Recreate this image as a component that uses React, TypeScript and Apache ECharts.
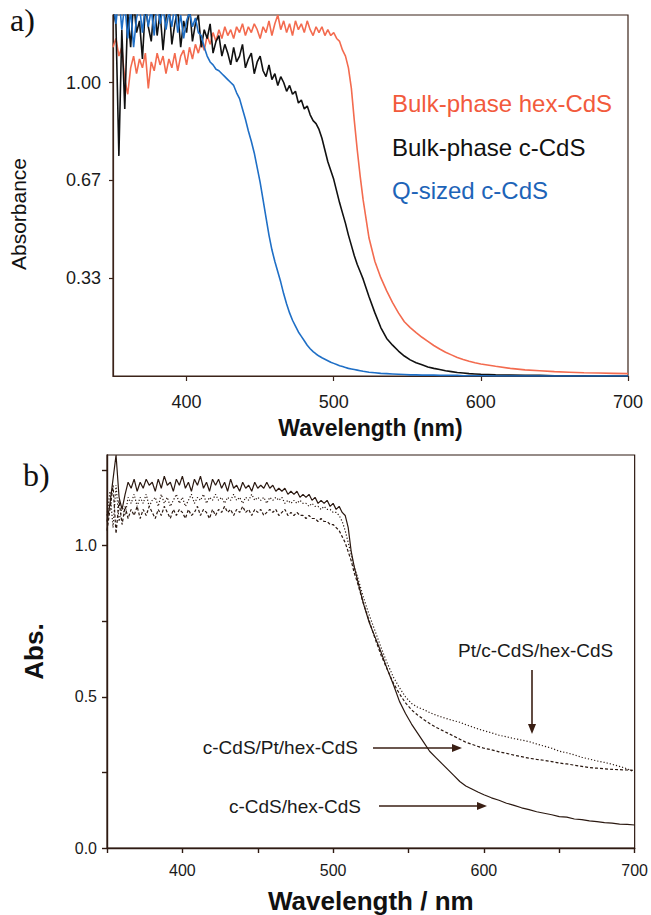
import React, { useEffect, useRef } from "react";
import * as echarts from "echarts";

// ---------- Panel a: wavelength grid (nm) ----------
const WL_A = [
  350, 352, 354, 356, 358, 360, 362, 364, 366, 368,
  370, 372, 374, 376, 378, 380, 382, 384, 386, 388,
  390, 392, 394, 396, 398, 400, 402, 404, 406, 408,
  410, 412, 414, 416, 418, 420, 422, 424, 426, 428,
  430, 432, 434, 436, 438, 440, 442, 444, 446, 448,
  450, 452, 454, 456, 458, 460, 462, 464, 466, 468,
  470, 472, 474, 476, 478, 480, 482, 484, 486, 488,
  490, 492, 494, 496, 498, 500, 502, 504, 506, 508,
  510, 512, 514, 516, 518, 520,
  524, 528, 532, 536, 540, 544, 548, 552, 556, 560,
  564, 568, 572, 576, 580, 584, 588, 592, 596, 600,
  610, 620, 630, 640, 650, 660, 670, 680, 690, 700,
];

// Bulk-phase hex-CdS
const HEX_A = [
  1.12, 1.15, 1.09, 1.12, 1.01, 0.96, 1.05, 1.09, 1.03, 1.08,
  1.05, 1.10, 0.98, 1.07, 1.04, 1.10, 1.06, 1.09, 1.03, 1.08,
  1.05, 1.10, 1.04, 1.09, 1.11, 1.06, 1.12, 1.08, 1.13, 1.10,
  1.14, 1.11, 1.16, 1.13, 1.17, 1.14, 1.18, 1.15, 1.19, 1.16,
  1.18, 1.15, 1.19, 1.17, 1.20, 1.16, 1.19, 1.17, 1.20, 1.18,
  1.15, 1.19, 1.17, 1.21, 1.16, 1.20, 1.23, 1.18, 1.21, 1.17,
  1.20, 1.16, 1.21, 1.18, 1.20, 1.17, 1.21, 1.18, 1.16, 1.19,
  1.17, 1.19, 1.16, 1.18, 1.16, 1.17, 1.15, 1.14, 1.11, 1.09,
  1.05, 0.98, 0.87, 0.77, 0.68, 0.60,
  0.47, 0.39, 0.335, 0.29, 0.25, 0.215, 0.185, 0.165, 0.148, 0.132,
  0.118, 0.104, 0.092, 0.081, 0.072, 0.063, 0.056, 0.050, 0.045, 0.041,
  0.033, 0.026, 0.021, 0.018, 0.015, 0.013, 0.011, 0.010, 0.009, 0.008,
];

// Bulk-phase c-CdS
const CUBIC_A = [
  1.25, 1.20, 0.75, 1.18, 0.91, 1.24, 1.12, 1.28, 1.17, 1.21,
  1.08, 1.26, 1.19, 1.14, 1.27, 1.16, 1.24, 1.11, 1.22, 1.27,
  1.13, 1.20, 1.25, 1.12, 1.21, 1.17, 1.26, 1.14, 1.20, 1.23,
  1.12, 1.18, 1.15, 1.20, 1.10, 1.14, 1.16, 1.09, 1.13, 1.10,
  1.06, 1.12, 1.07, 1.09, 1.13, 1.05, 1.08, 1.10, 1.03, 1.07,
  1.09, 1.04, 1.02, 1.06, 1.01, 1.03, 0.99, 1.02, 1.00, 0.97,
  0.99, 0.96, 0.97, 0.93, 0.94, 0.91, 0.92, 0.89, 0.87, 0.86,
  0.84, 0.81, 0.77, 0.73, 0.70, 0.67, 0.63, 0.59, 0.555, 0.52,
  0.48, 0.445, 0.41, 0.38, 0.355, 0.33,
  0.27, 0.215, 0.165, 0.128, 0.105, 0.085, 0.068, 0.055, 0.045, 0.038,
  0.031, 0.026, 0.022, 0.018, 0.015, 0.012, 0.010, 0.008, 0.007, 0.006,
  0.004, 0.003, 0.002, 0.002, 0.001, 0.001, 0.001, 0, 0, 0,
];

// Q-sized c-CdS
const QSIZE_A = [
  1.28, 1.20, 1.30, 1.18, 1.27, 1.15, 1.25, 1.12, 1.22, 1.26,
  1.17, 1.27, 1.19, 1.25, 1.16, 1.28, 1.20, 1.26, 1.18, 1.24,
  1.19, 1.27, 1.17, 1.23, 1.15, 1.21, 1.24, 1.19, 1.22, 1.17,
  1.16, 1.12, 1.09, 1.07, 1.06, 1.045, 1.04, 1.03, 1.02, 1.01,
  1.00, 0.99, 0.965, 0.945, 0.91, 0.875, 0.835, 0.80, 0.76, 0.71,
  0.66, 0.60, 0.54, 0.48, 0.43, 0.39, 0.355, 0.32, 0.28, 0.245,
  0.215, 0.19, 0.17, 0.15, 0.135, 0.12, 0.105, 0.093, 0.083, 0.075,
  0.068, 0.062, 0.057, 0.052, 0.047, 0.043, 0.039, 0.035, 0.032, 0.029,
  0.026, 0.024, 0.022, 0.020, 0.018, 0.016,
  0.013, 0.011, 0.009, 0.008, 0.007, 0.006, 0.005, 0.004, 0.004, 0.003,
  0.003, 0.003, 0.002, 0.002, 0.002, 0.002, 0.001, 0.001, 0.001, 0.001,
  0, 0, 0, 0, 0, 0, 0, 0, 0, 0,
];

// ---------- Panel b: wavelength grid (nm) ----------
const WL_B = [
  350, 352, 354, 356, 358, 360, 362, 364, 366, 368,
  370, 372, 374, 376, 378, 380, 382, 384, 386, 388,
  390, 392, 394, 396, 398, 400, 402, 404, 406, 408,
  410, 412, 414, 416, 418, 420, 422, 424, 426, 428,
  430, 432, 434, 436, 438, 440, 442, 444, 446, 448,
  450, 452, 454, 456, 458, 460, 462, 464, 466, 468,
  470, 472, 474, 476, 478, 480, 482, 484, 486, 488,
  490, 492, 494, 496, 498, 500, 502, 504, 506, 508,
  510, 512, 514, 516, 518, 520,
  524, 528, 532, 536, 540, 544, 548, 552, 556, 560,
  564, 568, 572, 576, 580, 584, 588, 592, 596, 600,
  605, 610, 615, 620, 625, 630, 635, 640, 645, 650,
  655, 660, 665, 670, 675, 680, 685, 690, 695, 700,
];

// c-CdS/hex-CdS (solid)
const C_HEX_B = [
  1.08, 1.14, 1.22, 1.30, 1.16, 1.12, 1.17, 1.21, 1.19, 1.22,
  1.18, 1.21, 1.19, 1.22, 1.20, 1.21, 1.18, 1.22, 1.19, 1.23,
  1.20, 1.21, 1.18, 1.22, 1.20, 1.23, 1.19, 1.21, 1.18, 1.22,
  1.20, 1.23, 1.19, 1.21, 1.18, 1.22, 1.20, 1.22, 1.19, 1.21,
  1.18, 1.22, 1.19, 1.20, 1.18, 1.21, 1.19, 1.20, 1.18, 1.21,
  1.19, 1.20, 1.19, 1.21, 1.19, 1.20, 1.18, 1.19, 1.18, 1.19,
  1.17, 1.18, 1.17, 1.18, 1.16, 1.17, 1.16, 1.17, 1.15, 1.16,
  1.14, 1.15, 1.14, 1.15, 1.13, 1.14, 1.12, 1.13, 1.11, 1.10,
  1.06, 0.98, 0.93, 0.89, 0.85, 0.81,
  0.745, 0.695, 0.645, 0.59, 0.54, 0.485, 0.445, 0.41, 0.38, 0.35,
  0.32, 0.30, 0.28, 0.26, 0.24, 0.22, 0.205, 0.195, 0.185, 0.176,
  0.166, 0.158, 0.148, 0.141, 0.133, 0.127, 0.120, 0.115, 0.110, 0.104,
  0.102, 0.096, 0.094, 0.090, 0.087, 0.084, 0.082, 0.079, 0.078, 0.076,
];

// Pt/c-CdS/hex-CdS (dotted)
const PT_C_HEX_B = [
  1.10, 1.18, 1.06, 1.20, 1.08, 1.13, 1.10, 1.16, 1.14, 1.17,
  1.13, 1.16, 1.14, 1.17, 1.13, 1.15, 1.16, 1.13, 1.17, 1.14,
  1.16, 1.13, 1.15, 1.17, 1.14, 1.16, 1.13, 1.15, 1.17, 1.14,
  1.16, 1.15, 1.17, 1.14, 1.16, 1.15, 1.17, 1.15, 1.16, 1.14,
  1.16, 1.15, 1.17, 1.15, 1.16, 1.14, 1.16, 1.15, 1.17, 1.15,
  1.16, 1.15, 1.16, 1.14, 1.16, 1.15, 1.16, 1.15, 1.16, 1.14,
  1.15, 1.14, 1.15, 1.14, 1.15, 1.14, 1.14, 1.13, 1.14, 1.13,
  1.13, 1.12, 1.13, 1.12, 1.12, 1.11, 1.11, 1.10, 1.08, 1.05,
  1.01, 0.97, 0.93, 0.90, 0.865, 0.83,
  0.77, 0.715, 0.66, 0.61, 0.565, 0.53, 0.50, 0.478, 0.466, 0.458,
  0.448, 0.44, 0.433, 0.427, 0.421, 0.416, 0.408, 0.401, 0.394, 0.388,
  0.381, 0.373, 0.368, 0.362, 0.357, 0.352, 0.344, 0.337, 0.330, 0.320,
  0.315, 0.308, 0.300, 0.294, 0.288, 0.283, 0.277, 0.270, 0.262, 0.252,
];

// c-CdS/Pt/hex-CdS (dashed)
const C_PT_HEX_B = [
  1.05, 1.12, 1.20, 1.04, 1.15, 1.07, 1.13, 1.09, 1.12, 1.10,
  1.13, 1.09, 1.12, 1.10, 1.13, 1.11, 1.09, 1.12, 1.10, 1.13,
  1.11, 1.09, 1.12, 1.10, 1.12, 1.11, 1.09, 1.12, 1.10, 1.11,
  1.13, 1.10, 1.12, 1.11, 1.09, 1.12, 1.10, 1.12, 1.11, 1.13,
  1.11, 1.12, 1.10, 1.12, 1.11, 1.13, 1.11, 1.12, 1.10, 1.12,
  1.11, 1.12, 1.10, 1.11, 1.12, 1.11, 1.12, 1.10, 1.11, 1.12,
  1.10, 1.11, 1.10, 1.11, 1.10, 1.10, 1.09, 1.10, 1.09, 1.09,
  1.08, 1.09, 1.08, 1.08, 1.07, 1.07, 1.06, 1.05, 1.03, 1.01,
  0.98, 0.95, 0.91, 0.88, 0.845, 0.81,
  0.75, 0.69, 0.635, 0.59, 0.545, 0.51, 0.48, 0.457, 0.44, 0.425,
  0.412, 0.40, 0.39, 0.38, 0.37, 0.36, 0.35, 0.343, 0.336, 0.33,
  0.325, 0.318, 0.313, 0.307, 0.302, 0.297, 0.293, 0.290, 0.286, 0.281,
  0.278, 0.274, 0.270, 0.266, 0.264, 0.262, 0.260, 0.259, 0.258, 0.257,
];

// ---------- Ticks / labels ----------
const TICKS_A_X = [400, 500, 600, 700];
const TICKS_A_Y = [1 / 3, 2 / 3, 1];
const TICKS_B_X = [350, 400, 450, 500, 550, 600, 650, 700];
const LABELS_B_X = [400, 500, 600, 700];
const TICKS_B_Y = [0, 0.25, 0.5, 0.75, 1, 1.25];
const LABELS_B_Y = [0, 0.5, 1];

const FONT = "'Liberation Sans', Arial, Helvetica, sans-serif";
const SERIF = "'Liberation Serif', 'Times New Roman', serif";
const AX_A = "#3b2319";
const AX_B = "#2e1a12";
const LINE_B = "#2a1810";

const pairs = (xs: number[], ys: number[]) => xs.map((x, i) => [x, ys[i]]);

export default function App() {
  const ref = useRef<HTMLDivElement>(null);

  useEffect(() => {
    if (!ref.current) return;
    const chart = echarts.init(ref.current, null, { renderer: "svg" });

    const arrowColor = "#3a1f14";

    chart.setOption({
      animation: false,
      backgroundColor: "#ffffff",
      textStyle: { fontFamily: FONT },
      grid: [
        {
          left: 113, top: 15, width: 515, height: 361,
          show: true, borderColor: AX_A, borderWidth: 1.2, backgroundColor: "transparent",
        },
        {
          left: 107, top: 455, width: 530, height: 393,
          show: true, borderColor: AX_B, borderWidth: 1.2, backgroundColor: "transparent",
        },
      ],
      xAxis: [
        {
          gridIndex: 0, type: "value", min: 350, max: 700,
          axisLine: { show: true, lineStyle: { color: AX_A, width: 1.2 } },
          axisTick: { show: true, customValues: TICKS_A_X, length: 5, lineStyle: { color: AX_A, width: 1.2 } },
          axisLabel: { customValues: TICKS_A_X, fontSize: 18, color: "#1a1a1a", margin: 17, fontFamily: FONT },
          splitLine: { show: false },
          name: "Wavelength (nm)", nameLocation: "middle", nameGap: 40,
          nameTextStyle: { fontSize: 23, fontWeight: "bold", color: "#111", fontFamily: FONT },
        },
        {
          gridIndex: 1, type: "value", min: 350, max: 700,
          axisLine: { show: true, lineStyle: { color: AX_B, width: 1.4 } },
          axisTick: { show: true, customValues: TICKS_B_X, length: 5, lineStyle: { color: AX_B, width: 1.4 } },
          axisLabel: { customValues: LABELS_B_X, fontSize: 16, color: "#1a1a1a", margin: 14, fontFamily: FONT },
          splitLine: { show: false },
          name: "Wavelength / nm", nameLocation: "middle", nameGap: 40,
          nameTextStyle: { fontSize: 26, fontWeight: "bold", color: "#111", fontFamily: FONT },
        },
      ],
      yAxis: [
        {
          gridIndex: 0, type: "value", min: 0, max: 1.23,
          axisLine: { show: true, lineStyle: { color: AX_A, width: 1.2 } },
          axisTick: { show: true, customValues: TICKS_A_Y, length: 4, lineStyle: { color: AX_A, width: 1.2 } },
          axisLabel: {
            customValues: TICKS_A_Y, fontSize: 18, color: "#1a1a1a", margin: 12, fontFamily: FONT,
            formatter: (v: number) => v.toFixed(2),
          },
          splitLine: { show: false },
        },
        {
          gridIndex: 1, type: "value", min: 0, max: 1.3,
          axisLine: { show: true, lineStyle: { color: AX_B, width: 1.4 } },
          axisTick: { show: true, customValues: TICKS_B_Y, length: 5, lineStyle: { color: AX_B, width: 1.4 } },
          axisLabel: {
            customValues: LABELS_B_Y, fontSize: 16, color: "#1a1a1a", margin: 10, fontFamily: FONT,
            formatter: (v: number) => v.toFixed(1),
          },
          splitLine: { show: false },
          name: "Abs.", nameLocation: "middle", nameGap: 60,
          nameTextStyle: { fontSize: 26, fontWeight: "bold", color: "#111", fontFamily: FONT },
        },
      ],
      series: [
        {
          name: "Bulk-phase hex-CdS", type: "line", xAxisIndex: 0, yAxisIndex: 0,
          data: pairs(WL_A, HEX_A), showSymbol: false, symbol: "none", clip: true,
          lineStyle: { color: "#f36b4f", width: 1.6 },
        },
        {
          name: "Bulk-phase c-CdS", type: "line", xAxisIndex: 0, yAxisIndex: 0,
          data: pairs(WL_A, CUBIC_A), showSymbol: false, symbol: "none", clip: true,
          lineStyle: { color: "#111111", width: 1.6 },
        },
        {
          name: "Q-sized c-CdS", type: "line", xAxisIndex: 0, yAxisIndex: 0,
          data: pairs(WL_A, QSIZE_A), showSymbol: false, symbol: "none", clip: true,
          lineStyle: { color: "#1f6fc6", width: 1.6 },
        },
        {
          name: "c-CdS/hex-CdS", type: "line", xAxisIndex: 1, yAxisIndex: 1,
          data: pairs(WL_B, C_HEX_B), showSymbol: false, symbol: "none", clip: true,
          lineStyle: { color: LINE_B, width: 1.2 },
        },
        {
          name: "Pt/c-CdS/hex-CdS", type: "line", xAxisIndex: 1, yAxisIndex: 1,
          data: pairs(WL_B, PT_C_HEX_B), showSymbol: false, symbol: "none", clip: true,
          lineStyle: { color: LINE_B, width: 1.2, type: [1.2, 2] },
        },
        {
          name: "c-CdS/Pt/hex-CdS", type: "line", xAxisIndex: 1, yAxisIndex: 1,
          data: pairs(WL_B, C_PT_HEX_B), showSymbol: false, symbol: "none", clip: true,
          lineStyle: { color: LINE_B, width: 1.2, type: [3, 2] },
        },
      ],
      graphic: [
        { type: "text", left: 10, top: 4, style: { text: "a)", font: `32px ${SERIF}`, fill: "#111" } },
        { type: "text", left: 23, top: 459, style: { text: "b)", font: `32px ${SERIF}`, fill: "#111" } },
        {
          type: "text", x: 18, y: 214, rotation: Math.PI / 2,
          style: { text: "Absorbance", font: `21px ${FONT}`, fill: "#111", align: "center", verticalAlign: "middle" },
        },
        {
          type: "text", x: 392, y: 103,
          style: { text: "Bulk-phase hex-CdS", font: `24px ${FONT}`, fill: "#f25a3c", verticalAlign: "middle" },
        },
        {
          type: "text", x: 392, y: 147,
          style: { text: "Bulk-phase c-CdS", font: `24px ${FONT}`, fill: "#111111", verticalAlign: "middle" },
        },
        {
          type: "text", x: 392, y: 190,
          style: { text: "Q-sized c-CdS", font: `24px ${FONT}`, fill: "#1d64b8", verticalAlign: "middle" },
        },
        {
          type: "text", x: 458, y: 650,
          style: { text: "Pt/c-CdS/hex-CdS", font: `19px ${FONT}`, fill: "#1a1a1a", verticalAlign: "middle" },
        },
        {
          type: "text", x: 358, y: 747,
          style: { text: "c-CdS/Pt/hex-CdS", font: `19px ${FONT}`, fill: "#1a1a1a", verticalAlign: "middle", align: "right" },
        },
        {
          type: "text", x: 361, y: 806,
          style: { text: "c-CdS/hex-CdS", font: `19px ${FONT}`, fill: "#1a1a1a", verticalAlign: "middle", align: "right" },
        },
        // arrows
        { type: "line", shape: { x1: 532, y1: 670, x2: 532, y2: 726 }, style: { stroke: arrowColor, lineWidth: 1.6 } },
        { type: "polygon", shape: { points: [[528, 724], [536, 724], [532, 734]] }, style: { fill: arrowColor } },
        { type: "line", shape: { x1: 373, y1: 748, x2: 454, y2: 748 }, style: { stroke: arrowColor, lineWidth: 1.6 } },
        { type: "polygon", shape: { points: [[452, 744], [452, 752], [462, 748]] }, style: { fill: arrowColor } },
        { type: "line", shape: { x1: 379, y1: 806, x2: 479, y2: 806 }, style: { stroke: arrowColor, lineWidth: 1.6 } },
        { type: "polygon", shape: { points: [[477, 802], [477, 810], [487, 806]] }, style: { fill: arrowColor } },
      ],
    });

    return () => chart.dispose();
  }, []);

  return (
    <div
      ref={ref}
      style={{ position: "absolute", left: 0, top: 0, width: 651, height: 915, background: "#fff" }}
    />
  );
}
